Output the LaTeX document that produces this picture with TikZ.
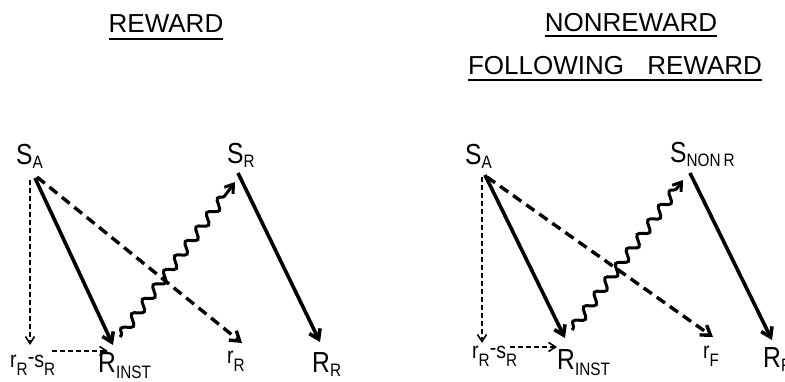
\documentclass[tikz,border=0pt]{standalone}
\usepackage{fontspec}
\setmainfont{Liberation Sans}
\newfontfamily\labfont{Liberation Sans}[FakeStretch=0.85]
\usetikzlibrary{arrows.meta,decorations.pathmorphing,calc}
\newcommand{\capsub}[1]{\raisebox{-4pt}{\fontsize{18}{18}\selectfont #1}}
\newcommand{\instsub}[1]{\raisebox{-6pt}{\fontsize{18}{18}\selectfont #1}}
\newcommand{\lowsub}[1]{\raisebox{-8pt}{\fontsize{18}{18}\selectfont #1}}
\newcommand{\rdash}{\raisebox{3pt}{-}}
\tikzset{
  lbl/.style={inner sep=0pt, anchor=base west, font=\labfont\fontsize{29}{29}\selectfont},
  lowlbl/.style={inner sep=0pt, anchor=base west, font=\labfont\fontsize{23}{23}\selectfont},
  ttl/.style={inner sep=0pt, anchor=base, font=\fontsize{26}{26}\selectfont},
  uline/.style={line width=1.8pt},
  solidarr/.style={line width=3.6pt, -{Straight Barb[length=9pt,width=12pt]}},
  thickdash/.style={line width=3.4pt, dash pattern=on 10pt off 6pt, -{Straight Barb[length=9pt,width=12pt]}},
  thindash/.style={line width=1.6pt, dash pattern=on 5pt off 3pt, -{Straight Barb[length=7pt,width=9pt]}},
  wavy/.style={line width=3pt, -{Straight Barb[length=8pt,width=11pt]}, decorate,
    decoration={snake, amplitude=4.5pt, segment length=18pt, pre length=2pt, post length=9pt}}
}
\begin{document}
\begin{tikzpicture}[x=1pt,y=-1pt]
\useasboundingbox (0,0) rectangle (785,382);
\clip (0,0) rectangle (785,382);
\fill[white] (0,0) rectangle (785,382);

% titles
\node[ttl] (t1) at (166,33) {REWARD};
\draw[uline] ($(t1.base west)+(0,6)$) -- ($(t1.base east)+(0,6)$);
\node[ttl] (t2) at (631,32) {NONREWARD};
\draw[uline] ($(t2.base west)+(0,4)$) -- ($(t2.base east)+(0,4)$);
\node[ttl] (t3) at (615,75) {FOLLOWING\hspace{0.9em}REWARD};
\draw[uline] ($(t3.base west)+(0,5)$) -- ($(t3.base east)+(0,5)$);

% left panel
\node[lbl] (sa) at (16,165) {S\capsub{A}};
\node[lbl] (sr) at (227,164) {S\capsub{R}};
\node[lowlbl] (rrsr) at (10,367) {r\lowsub{R}\rdash s\lowsub{R}};
\node[lbl] (rinst) at (98,372) {R\instsub{INST}};
\node[lowlbl] (rr) at (227,363) {r\lowsub{R}};
\node[lbl] (RR) at (312,372) {R\capsub{R}};

\draw[thindash] ($(sa.base west)+(14,15)$) -- ($(rrsr.base west)+(20,-22)$);
\draw[solidarr] ($(sa.base west)+(19,13)$) -- ($(rinst.base west)+(15,-27)$);
\draw[thickdash] ($(sa.base west)+(21,12)$) -- ($(rr.base west)+(15,-20)$);
\draw[wavy] ($(rinst.base west)+(22,-35)$) -- ($(sr.base west)+(8,18)$);
\draw[solidarr] ($(sr.base west)+(11,9)$) -- ($(RR.base west)+(8,-30)$);
\draw[thindash] ($(rrsr.base west)+(42,-16)$) -- ($(rinst.base west)+(10,-21)$);

% right panel
\node[lbl] (sa2) at (465,165) {S\capsub{A}};
\node[lbl] (snonr) at (670,163) {S\capsub{NON\,R}};
\node[lowlbl] (rrsr2) at (472,358) {r\lowsub{R}\rdash s\lowsub{R}};
\node[lbl] (rinst2) at (557,369) {R\instsub{INST}};
\node[lowlbl] (rf) at (703,358) {r\lowsub{F}};
\node[lbl] (RF) at (763,367) {R\capsub{F}};

\draw[thindash] ($(sa2.base west)+(17,12)$) -- ($(rrsr2.base west)+(10,-15)$);
\draw[solidarr] ($(sa2.base west)+(20,10)$) -- ($(rinst2.base west)+(8,-31)$);
\draw[thickdash] ($(sa2.base west)+(22,12)$) -- ($(rf.base west)+(10,-21)$);
\draw[wavy] ($(rinst2.base west)+(15,-39)$) -- ($(snonr.base west)+(13,17)$);
\draw[solidarr] ($(snonr.base west)+(20,10)$) -- ($(RF.base west)+(9,-27)$);
\draw[thindash] ($(rrsr2.base west)+(38,-11)$) -- ($(rinst2.base west)+(0,-22)$);
\end{tikzpicture}
\end{document}
